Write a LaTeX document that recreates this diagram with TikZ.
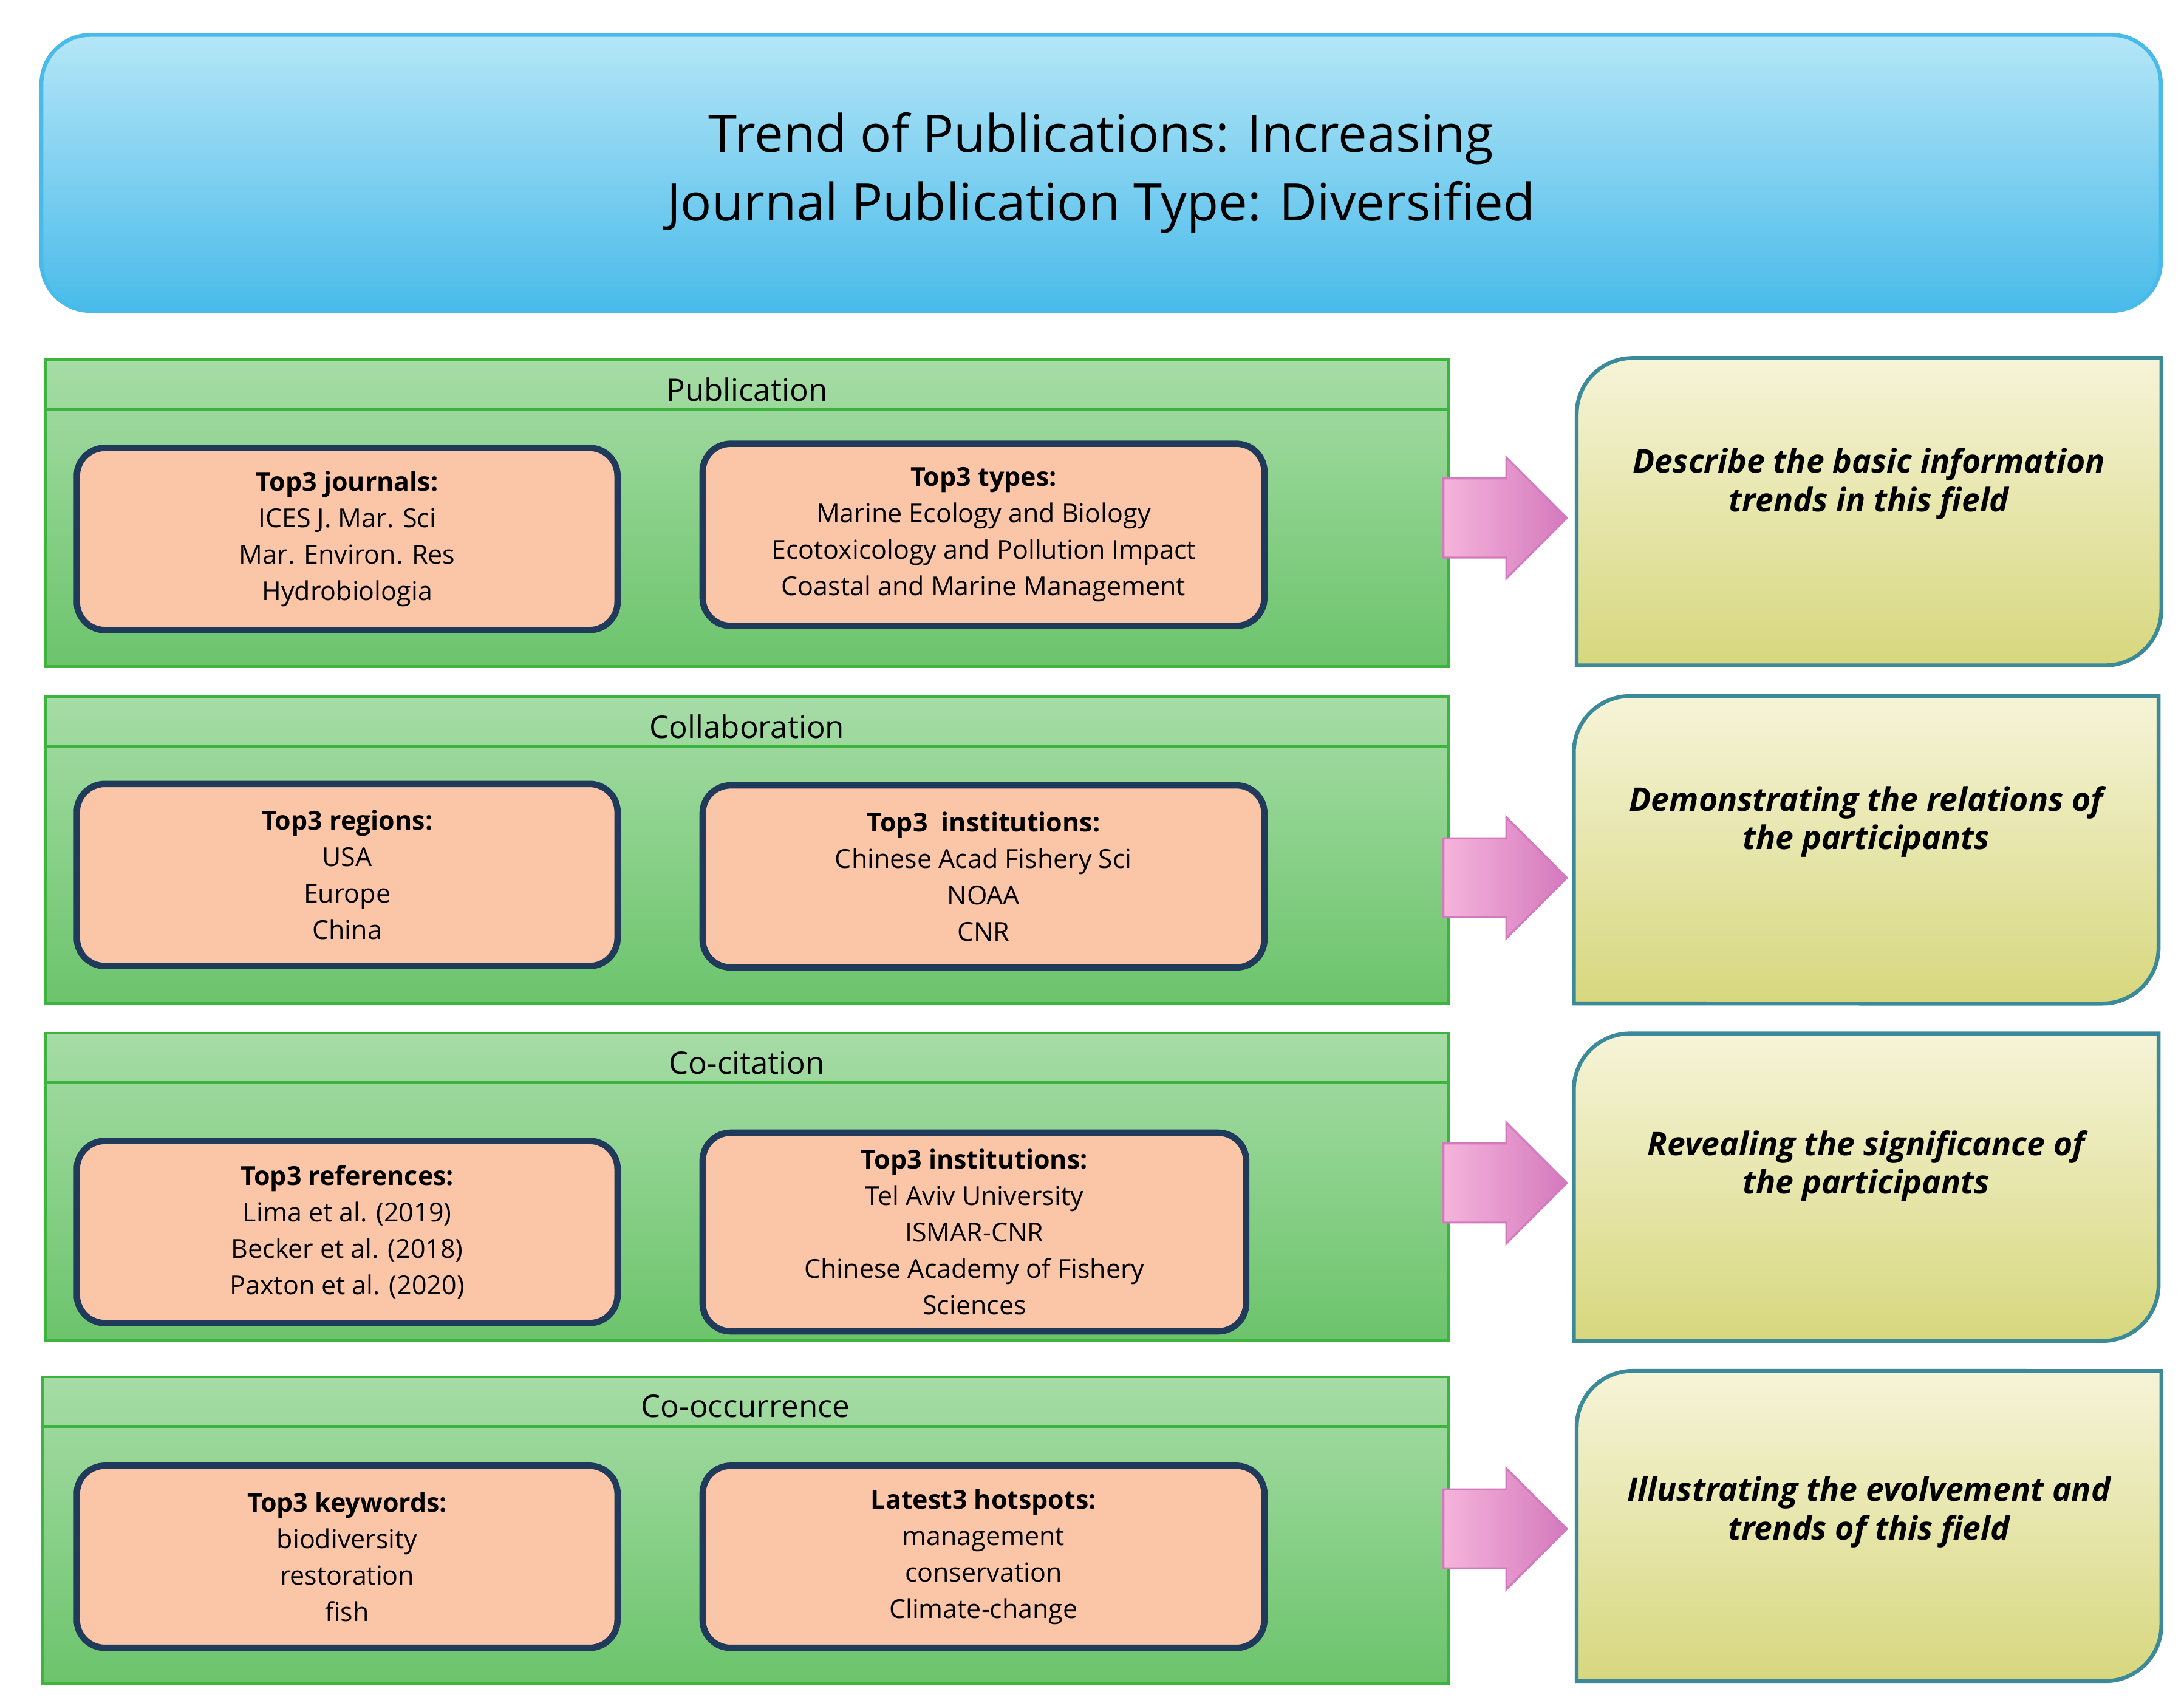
\documentclass[tikz,border=0pt]{standalone}
\usepackage{fontspec}
\setmainfont{Open Sans}
\usetikzlibrary{shapes.arrows,calc}
\definecolor{skyA}{HTML}{B5E6F7}
\definecolor{skyB}{HTML}{49BBEA}
\definecolor{grnA}{HTML}{A6DCA6}
\definecolor{grnB}{HTML}{6CC46C}
\definecolor{grnline}{HTML}{3DB43D}
\definecolor{peach}{HTML}{FBC5A8}
\definecolor{navy}{HTML}{1F3A5A}
\definecolor{pinkA}{HTML}{F5B4DB}
\definecolor{pinkB}{HTML}{D479BD}
\definecolor{ylwA}{HTML}{F6F4D8}
\definecolor{ylwB}{HTML}{D7D77E}
\definecolor{teal}{HTML}{3B8A9A}

\begin{document}
\begin{tikzpicture}[x=0.01cm,y=-0.01cm]
\tikzstyle{banner}=[draw=skyB,line width=0.8pt,rounded corners=0.35cm,top color=skyA,bottom color=skyB,minimum width=15.13cm,minimum height=1.97cm,align=center,font=\fontsize{10.5}{14}\selectfont]
\tikzstyle{panel}=[draw=grnline,line width=0.6pt,top color=grnA,bottom color=grnB,minimum width=10.02cm,minimum height=2.19cm]
\tikzstyle{head}=[font=\fontsize{6.3}{7}\selectfont]
\tikzstyle{item}=[draw=navy,line width=1.3pt,fill=peach,rounded corners=0.2cm,minimum height=1.3cm,align=center,font=\fontsize{5.3}{7.4}\selectfont]
\tikzstyle{pointer}=[single arrow,draw=pinkB,line width=0.4pt,left color=pinkA,right color=pinkB,minimum height=0.88cm,inner xsep=0pt,inner ysep=0.275cm,single arrow head extend=0.15cm,single arrow tip angle=90]
\tikzstyle{note}=[minimum width=4.16cm,minimum height=2.18cm,align=center,font=\fontsize{6.6}{7.8}\selectfont\bfseries\itshape]
\tikzstyle{notebox}=[draw=teal,line width=0.8pt,top color=ylwA,bottom color=ylwB]

\useasboundingbox (0,0) rectangle (1560,1216);

% banner
\node [banner] (top) at (786.5,123.5) {Trend of Publications: Increasing\\Journal Publication Type: Diversified};

% panels
\node [panel] (pub) at (533.5,366.5) {};
\node [panel] (col) at (533.5,607) {};
\node [panel] (cit) at (533.5,847.5) {};
\node [panel,minimum width=10.04cm] (occ) at (532.5,1093) {};
\foreach \p in {pub,col,cit,occ}
  \draw [grnline,line width=0.6pt] ([yshift=-0.365cm]\p.north west) -- ([yshift=-0.365cm]\p.north east);
\node [head,below=0.015cm] (pubh) at (pub.north) {Publication};
\node [head,below=0.015cm] (colh) at (col.north) {Collaboration};
\node [head,below=0.015cm] (cith) at (cit.north) {Co-citation};
\node [head,below=0.015cm] (occh) at (occ.north) {Co-occurrence};

% left boxes
\node [item,minimum width=3.86cm] (jour) at (248,385) {\textbf{Top3 journals:}\\ICES J. Mar. Sci\\Mar. Environ. Res\\Hydrobiologia};
\node [item,minimum width=3.86cm] (reg) at (248,625) {\textbf{Top3 regions:}\\USA\\Europe\\China};
\node [item,minimum width=3.86cm] (ref) at (248,880) {\textbf{Top3 references:}\\Lima et al. (2019)\\Becker et al. (2018)\\Paxton et al. (2020)};
\node [item,minimum width=3.86cm] (kw) at (248,1112) {\textbf{Top3 keywords:}\\biodiversity\\restoration\\fish};

% right boxes
\node [item,minimum width=4.01cm] (typ) at (702.5,382) {\textbf{Top3 types:}\\Marine Ecology and Biology\\Ecotoxicology and Pollution Impact\\Coastal and Marine Management};
\node [item,minimum width=4.01cm] (inst) at (702.5,626) {\textbf{Top3\ \ institutions:}\\Chinese Acad Fishery Sci\\NOAA\\CNR};
\node [item,minimum width=3.88cm] (inst2) at (696,880) {\textbf{Top3 institutions:}\\Tel Aviv University\\ISMAR-CNR\\Chinese Academy of Fishery\\Sciences};
\node [item,minimum width=4.01cm] (hot) at (702.5,1112) {\textbf{Latest3 hotspots:}\\management\\conservation\\Climate-change};

% notes
\node [note] (n1) at (1335,365.5) {};
\node [note] (n2) at (1333,607) {};
\node [note] (n3) at (1333,848) {};
\node [note,minimum height=2.2cm] (n4) at (1335,1090) {};
\foreach \n in {n1,n2,n3,n4}
  \shade [notebox] ($(\n.north west)+(0,40)$) arc[start angle=180,end angle=90,radius=0.4cm]
    -- (\n.north east) -- ($(\n.south east)+(0,-40)$) arc[start angle=0,end angle=-90,radius=0.4cm]
    -- (\n.south west) -- cycle;
\node [note] at (n1) [yshift=0.2cm] {Describe the basic information\\trends in this field};
\node [note] at (n2) [yshift=0.2cm] {Demonstrating the relations of\\the participants};
\node [note] at (n3) [yshift=0.15cm] {Revealing the significance of\\the participants};
\node [note] at (n4) [yshift=0.1cm] {Illustrating the evolvement and\\trends of this field};

% arrows
\node [pointer] (a1) at (1061,370) {};
\node [pointer] (a2) at (1061,627) {};
\node [pointer] (a3) at (1061,845) {};
\node [pointer] (a4) at (1061,1092) {};
\end{tikzpicture}
\end{document}
